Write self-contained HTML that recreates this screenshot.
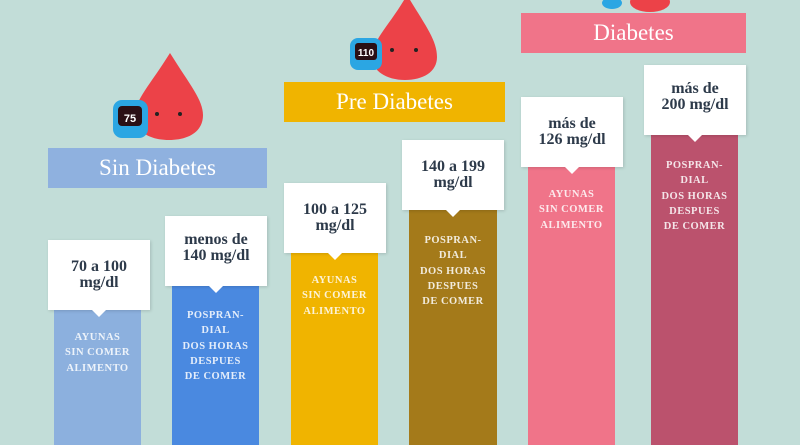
<!DOCTYPE html>
<html><head><meta charset="utf-8"><style>
body{margin:0;width:800px;height:445px;overflow:hidden;background:#c2ddd8;position:relative;font-family:"Liberation Serif",serif}
.ban{position:absolute;color:#fff;font-size:23px;text-align:center;line-height:40px;height:40px}
.bar{position:absolute;bottom:0}
.box{position:absolute;background:#fff;width:102px;height:70px;box-shadow:1px 1px 3px rgba(0,0,0,.15);display:flex;align-items:center;justify-content:center;text-align:center;font-size:16px;font-weight:bold;color:#2d3a4a;line-height:16px}
.box:after{content:"";position:absolute;left:44px;bottom:-7px;border-left:7px solid transparent;border-right:7px solid transparent;border-top:7px solid #fff}
.lbl{position:absolute;width:100%;text-align:center;color:#fff;font-size:10.5px;font-weight:bold;letter-spacing:.5px;line-height:15.3px;opacity:.85;font-family:"Liberation Serif",serif}
</style></head><body>
<svg width="800" height="445" style="position:absolute;left:0;top:0">
 <g>
  <path d="M170 53 C150 85 135 100 135 115 C135 132 150 140 169 140 C188 140 203 132 203 115 C203 100 190 85 170 53Z" fill="#ec4248"/>
  <rect x="113" y="100" width="35" height="38" rx="9" fill="#2ba6e3"/>
  <rect x="118" y="106" width="24" height="20" rx="4" fill="#2a1015"/>
  <text x="130" y="122" font-size="11" fill="#fff" text-anchor="middle" font-family="Liberation Sans" font-weight="bold">75</text>
  <circle cx="157" cy="114" r="2" fill="#222"/><circle cx="180" cy="114" r="2" fill="#222"/>
 </g>
 <g>
  <path d="M407 -5 C390 25 372 40 372 57 C372 72 388 80 405 80 C423 80 437 72 437 57 C437 40 425 25 407 -5Z" fill="#ec4248"/>
  <rect x="350" y="38" width="32" height="32" rx="8" fill="#2ba6e3"/>
  <rect x="355" y="43" width="22" height="17" rx="3" fill="#2a1015"/>
  <text x="366" y="56" font-size="10" fill="#fff" text-anchor="middle" font-family="Liberation Sans" font-weight="bold">110</text>
  <circle cx="392" cy="50" r="2" fill="#222"/><circle cx="416" cy="50" r="2" fill="#222"/>
 </g>
 <ellipse cx="650" cy="2" rx="20" ry="10" fill="#ec4248"/>
 <ellipse cx="612" cy="3" rx="10" ry="6" fill="#2ba6e3"/>
</svg>
<div class="ban" style="left:48px;top:148px;width:219px;background:#8fb1df">Sin Diabetes</div>
<div class="ban" style="left:284px;top:82px;width:221px;background:#f0b400">Pre Diabetes</div>
<div class="ban" style="left:521px;top:13px;width:225px;background:#f07489">Diabetes</div>

<div class="bar" style="left:54px;top:310px;width:87px;background:#8cb0de"><div class="lbl" style="top:20px">AYUNAS<br>SIN COMER<br>ALIMENTO</div></div>
<div class="bar" style="left:172px;top:286px;width:87px;background:#4a89e0"><div class="lbl" style="top:22px">POSPRAN-<br>DIAL<br>DOS HORAS<br>DESPUES<br>DE COMER</div></div>
<div class="bar" style="left:291px;top:253px;width:87px;background:#f0b400"><div class="lbl" style="top:20px">AYUNAS<br>SIN COMER<br>ALIMENTO</div></div>
<div class="bar" style="left:409px;top:210px;width:88px;background:#a47a1a"><div class="lbl" style="top:23px">POSPRAN-<br>DIAL<br>DOS HORAS<br>DESPUES<br>DE COMER</div></div>
<div class="bar" style="left:528px;top:167px;width:87px;background:#f07489"><div class="lbl" style="top:20px">AYUNAS<br>SIN COMER<br>ALIMENTO</div></div>
<div class="bar" style="left:651px;top:135px;width:87px;background:#bb526d"><div class="lbl" style="top:23px">POSPRAN-<br>DIAL<br>DOS HORAS<br>DESPUES<br>DE COMER</div></div>

<div class="box" style="left:48px;top:240px">70 a 100<br>mg/dl</div>
<div class="box" style="left:165px;top:216px;padding-bottom:6px;height:64px">menos de<br>140 mg/dl</div>
<div class="box" style="left:284px;top:183px">100 a 125<br>mg/dl</div>
<div class="box" style="left:402px;top:140px">140 a 199<br>mg/dl</div>
<div class="box" style="left:521px;top:97px">más de<br>126 mg/dl</div>
<div class="box" style="left:644px;top:65px;padding-bottom:6px;height:64px">más de<br>200 mg/dl</div>
</body></html>
